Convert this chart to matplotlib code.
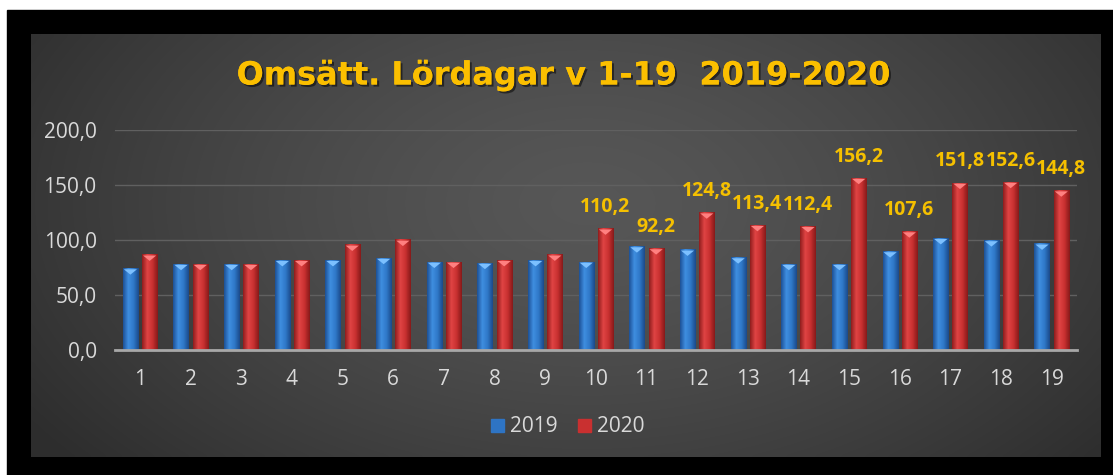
import numpy as np
import matplotlib
matplotlib.use("Agg")
import matplotlib.pyplot as plt
import matplotlib.patheffects as pe
from matplotlib.colors import LinearSegmentedColormap
from matplotlib.patches import Rectangle, Polygon

# Weekly Saturday turnover, weeks 1-19
weeks = [str(w) for w in range(1, 20)]
y2019 = [74, 78, 78, 81.5, 81.5, 83.5, 80, 79, 81.5, 80,
         94, 91, 84, 78, 78, 89.5, 101.5, 99.5, 96.5]
y2020 = [86.5, 78, 78, 81.5, 95.5, 100, 80, 81.5, 86.5, 110.2,
         92.2, 124.8, 113.4, 112.4, 156.2, 107.6, 151.8, 152.6, 144.8]
# only weeks 10-19 carry a value label in the original
label_from = 9
yticks = [0, 50, 100, 150, 200]

W, H = 1113, 475
fig = plt.figure(figsize=(W / 100, H / 100), dpi=100)
plt.rcParams['font.family'] = ['Open Sans', 'DejaVu Sans']

# background: white sheet, black frame, dark radial gradient panel
bg = fig.add_axes([0, 0, 1, 1], zorder=-10)
bg.axis("off")
bg.add_patch(Rectangle((7, 10), W - 7, H - 10, color="black", zorder=1))
gx, gy = np.meshgrid(np.linspace(0, 1, 300), np.linspace(0, 1, 120))
d = np.sqrt(((gx - 0.52) / 0.62) ** 2 + ((gy - 0.4) / 0.95) ** 2)
d = np.clip(d, 0, 1) ** 1.4
grey = (0.34 - 0.16 * d)
panel = np.dstack([grey, grey, grey])
bg.imshow(panel, extent=[31, 1101, 457, 34], aspect="auto", interpolation="bicubic", zorder=2)
bg.set_xlim(0, W)
bg.set_ylim(H, 0)

ax = fig.add_axes([114.7 / W, 1 - 350 / H, (1077 - 114.7) / W, 220 / H])
ax.set_facecolor("none")

x = np.arange(len(weeks))
bw = 0.3
off = 0.19
b1 = ax.bar(x - off, y2019, bw, color="#2e74c4", zorder=3)
b2 = ax.bar(x + off, y2020, bw, color="#c93030", zorder=3)

blue_cm = LinearSegmentedColormap.from_list("b", ["#1d5196", "#3f8ee0", "#2f78c8", "#1b4a8a"])
red_cm = LinearSegmentedColormap.from_list("r", ["#8f1d1d", "#e04444", "#c83030", "#861a1a"])
grad = np.linspace(0, 1, 64).reshape(1, -1)
for bars, cm, cap in [(b1, blue_cm, "#7cc0ff"), (b2, red_cm, "#ff8080")]:
    for r in bars:
        x0, w, h = r.get_x(), r.get_width(), r.get_height()
        ax.imshow(grad, cmap=cm, extent=[x0, x0 + w, 0, h], aspect="auto", zorder=3.1)
        ax.add_patch(Polygon([[x0 + 0.02, h - 0.6], [x0 + w - 0.02, h - 0.6], [x0 + w / 2, h - 5.5]],
                             closed=True, color=cap, zorder=3.2, lw=0))

for i in range(label_from, len(weeks)):
    ax.annotate(f"{y2020[i]:.1f}".replace(".", ","), (x[i] + off, y2020[i]),
                xytext=(0, 15.5), textcoords="offset points", ha="center", va="center",
                color="#f5c000", fontsize=14, fontweight="bold", zorder=5)

ax.set_xlim(-0.5, len(weeks) - 0.5)
ax.set_ylim(0, 200)
ax.set_yticks(yticks)
ax.set_yticklabels([f"{v},0" for v in yticks])
ax.set_xticks(x)
ax.set_xticklabels(weeks)
ax.grid(axis="y", color="#606060", lw=1, zorder=0)
ax.tick_params(length=0, colors="#d9d9d9", labelsize=15)
ax.tick_params(axis="y", pad=13)
ax.tick_params(axis="x", pad=14)
for s in ["top", "right", "left"]:
    ax.spines[s].set_visible(False)
ax.spines["bottom"].set_color("#a8a8a8")
ax.spines["bottom"].set_linewidth(2)
ax.spines["bottom"].set_zorder(4)

fig.text(564 / W, 1 - 76 / H, "Omsätt. Lördagar v 1-19  2019-2020", ha="center", va="center",
         color="#fbbf00", fontsize=23, fontweight="bold", family="DejaVu Sans",
         path_effects=[pe.withSimplePatchShadow(offset=(1.5, -1.5), shadow_rgbFace="black", alpha=0.5),
                       pe.Normal()])

handles = [Rectangle((0, 0), 1, 1, color="#2e74c4"), Rectangle((0, 0), 1, 1, color="#c93030")]
leg = fig.legend(handles, ["2019", "2020"], loc="center", bbox_to_anchor=(568 / W, 1 - 427 / H),
                 ncol=2, frameon=False, fontsize=15, handlelength=0.6, handleheight=0.6,
                 handletextpad=0.3, columnspacing=1.0)
for t in leg.get_texts():
    t.set_color("#d9d9d9")

fig.savefig("out.png", dpi=100)
